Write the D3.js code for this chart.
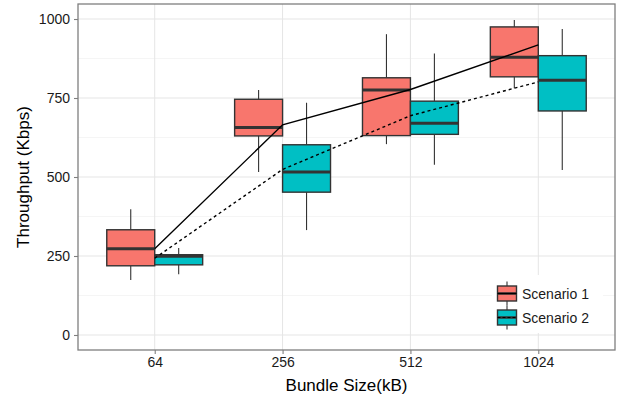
<!DOCTYPE html>
<html><head><meta charset="utf-8">
<script src="https://cdn.jsdelivr.net/npm/d3@7"></script>
<style>
body{margin:0;background:#fff;}
text{font-family:"Liberation Sans",Arial,Helvetica,sans-serif;}
</style></head>
<body><svg id="chart" width="623" height="401"></svg>
<script>
const categories = ["64","256","512","1024"];
const seriesNames = ["Scenario 1","Scenario 2"];
// box stats per category: [lowerWhisker, q1, median, q3, upperWhisker]
const scenario1Boxes = [[174,219,273,333,398],[516,630,657,746,775],[604,631,775,814,952],[781,817,879,975,997]];
const scenario2Boxes = [[192,222,249,254,275],[332,452,516,602,735],[539,635,670,740,891],[522,709,806,884,968]];
// line values (mean) per category
const scenario1Line = [273,665,777,918];
const scenario2Line = [243,524,694,801];
const yTicks = [0,250,500,750,1000];
const yMinorTicks = [125,375,625,875];
const colors = ["#F8766D","#00BFC4"];

const svg = d3.select("#chart");
const L=78, R=615, T=4, B=350;
const x = d3.scalePoint().domain(categories).range([L,R]).padding(0.6);
const step = x.step();
const sub = d3.scaleBand().domain(seriesNames).range([-0.375*step,0.375*step]).padding(0);
const y = d3.scaleLinear().domain([-47.5,1047.5]).range([B,T]);

// panel background
svg.append("rect").attr("x",L).attr("y",T).attr("width",R-L).attr("height",B-T).attr("fill","#fff");
// grid
svg.append("g").selectAll("line").data(yMinorTicks).join("line")
  .attr("x1",L).attr("x2",R).attr("y1",d=>y(d)).attr("y2",d=>y(d))
  .attr("stroke","#f5f5f5").attr("stroke-width",1);
svg.append("g").selectAll("line").data(yTicks).join("line")
  .attr("x1",L).attr("x2",R).attr("y1",d=>y(d)).attr("y2",d=>y(d))
  .attr("stroke","#e5e5e5").attr("stroke-width",1);
svg.append("g").selectAll("line").data(categories).join("line")
  .attr("x1",d=>x(d)).attr("x2",d=>x(d)).attr("y1",T).attr("y2",B)
  .attr("stroke","#e5e5e5").attr("stroke-width",1);

// boxes
const all = [scenario1Boxes, scenario2Boxes];
all.forEach((boxes,si)=>{
  const g = svg.append("g");
  boxes.forEach((b,ci)=>{
    const cx = x(categories[ci]) + sub(seriesNames[si]) + sub.bandwidth()/2;
    const x0 = x(categories[ci]) + sub(seriesNames[si]);
    const w = sub.bandwidth();
    g.append("line").attr("x1",cx).attr("x2",cx).attr("y1",y(b[4])).attr("y2",y(b[3])).attr("stroke","#333").attr("stroke-width",1.1);
    g.append("line").attr("x1",cx).attr("x2",cx).attr("y1",y(b[1])).attr("y2",y(b[0])).attr("stroke","#333").attr("stroke-width",1.1);
    g.append("rect").attr("x",x0).attr("y",y(b[3])).attr("width",w).attr("height",y(b[1])-y(b[3]))
      .attr("fill",colors[si]).attr("stroke","#333").attr("stroke-width",1.4);
    g.append("line").attr("x1",x0).attr("x2",x0+w).attr("y1",y(b[2])).attr("y2",y(b[2])).attr("stroke","#333").attr("stroke-width",3);
  });
});

// lines
const lineGen = d3.line().x((d,i)=>x(categories[i])).y(d=>y(d));
svg.append("path").attr("d",lineGen(scenario1Line)).attr("fill","none").attr("stroke","#000").attr("stroke-width",1.4);
svg.append("path").attr("d",lineGen(scenario2Line)).attr("fill","none").attr("stroke","#000").attr("stroke-width",1.4).attr("stroke-dasharray","3,3");

// panel border
svg.append("rect").attr("x",L).attr("y",T).attr("width",R-L).attr("height",B-T).attr("fill","none").attr("stroke","#7f7f7f").attr("stroke-width",1.3);

// axes
const yAxis = svg.append("g").attr("transform",`translate(${L},0)`).call(d3.axisLeft(y).tickValues(yTicks).tickSize(4).tickPadding(4).tickFormat(d3.format("d")));
const xAxis = svg.append("g").attr("transform",`translate(0,${B})`).call(d3.axisBottom(x).tickSize(4).tickPadding(3));
[yAxis,xAxis].forEach(a=>{
  a.select(".domain").remove();
  a.selectAll(".tick line").attr("stroke","#7f7f7f").attr("stroke-width",1.1);
  a.selectAll(".tick text").attr("fill","#1a1a1a").style("font-size","14px").style("font-family",'"Liberation Sans",Arial,sans-serif');
});

// axis titles
svg.append("text").attr("x",(L+R)/2).attr("y",391).attr("text-anchor","middle").attr("fill","#000").style("font-size","17px").text("Bundle Size(kB)");
svg.append("text").attr("transform",`translate(29,${(T+B)/2}) rotate(-90)`).attr("text-anchor","middle").attr("fill","#000").style("font-size","17px").text("Throughput (Kbps)");

// legend
const lg = svg.append("g");
lg.append("rect").attr("x",492).attr("y",275).attr("width",111).attr("height",58).attr("fill","#fff");
seriesNames.forEach((s,i)=>{
  const cy = 293.5 + i*24;
  const kx = 497.5, kw = 19, kh = 15;
  lg.append("line").attr("x1",kx+kw/2).attr("x2",kx+kw/2).attr("y1",cy-12).attr("y2",cy+12).attr("stroke","#333").attr("stroke-width",1.1);
  lg.append("rect").attr("x",kx).attr("y",cy-kh/2).attr("width",kw).attr("height",kh).attr("fill",colors[i]).attr("stroke","#333").attr("stroke-width",1.4);
  lg.append("line").attr("x1",kx).attr("x2",kx+kw).attr("y1",cy).attr("y2",cy).attr("stroke","#333").attr("stroke-width",2.5);
  lg.append("line").attr("x1",kx).attr("x2",kx+kw).attr("y1",cy).attr("y2",cy).attr("stroke","#000").attr("stroke-width",1.2).attr("stroke-dasharray",i===1?"3,2":null);
  lg.append("text").attr("x",522).attr("y",cy+5).attr("fill","#1a1a1a").style("font-size","14px").text(s);
});
</script></body></html>
